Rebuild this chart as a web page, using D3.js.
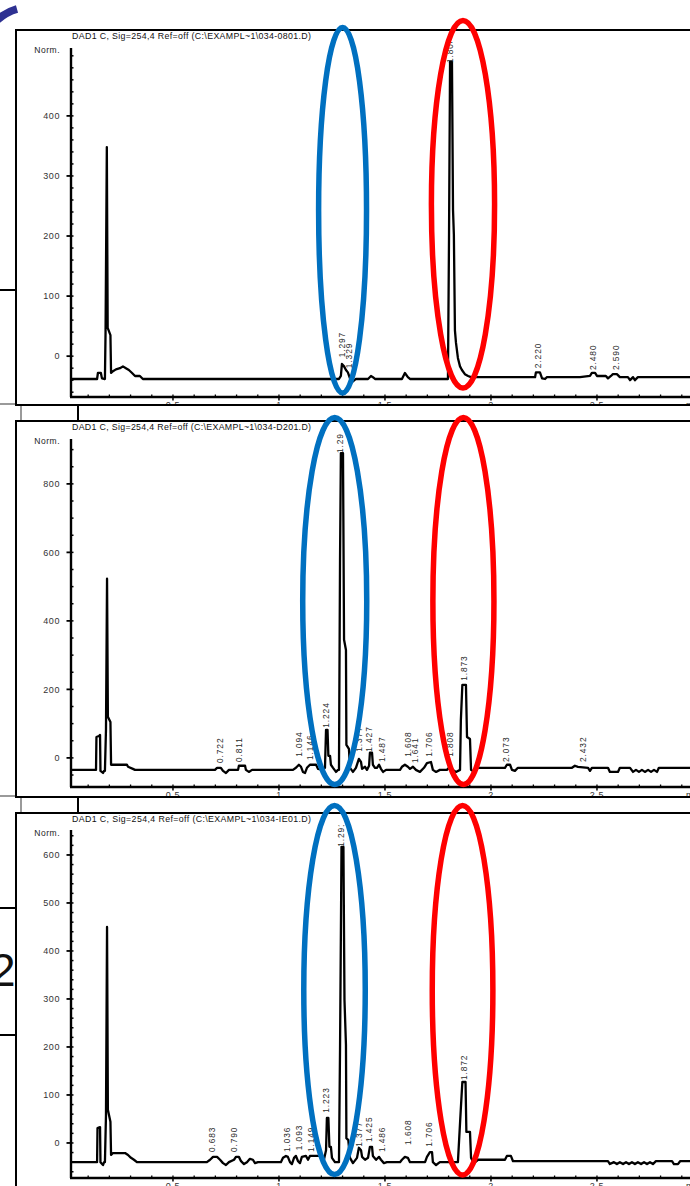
<!DOCTYPE html>
<html><head><meta charset="utf-8">
<script src="https://cdn.jsdelivr.net/npm/d3@7"></script>
<style>html,body{margin:0;padding:0;background:#fff;}svg{display:block;}</style>
</head><body>
<svg id="c" width="690" height="1186"></svg>
<script>
// ---------- DATA ----------
const titles = [
  "DAD1 C, Sig=254,4 Ref=off (C:\\EXAMPL~1\\034-0801.D)",
  "DAD1 C, Sig=254,4 Ref=off (C:\\EXAMPL~1\\034-D201.D)",
  "DAD1 C, Sig=254,4 Ref=off (C:\\EXAMPL~1\\034-IE01.D)"
];
const yAxisTitle = "Norm.";
const xAxisUnit = "min";
const yDomains = [[-68, 513], [-85, 931], [-73, 652]];
const yMajorTicks = [
  [0, 100, 200, 300, 400],
  [0, 200, 400, 600, 800],
  [0, 100, 200, 300, 400, 500, 600]
];
const yMinorSteps = [20, 50, 20];
const xDomain = [0.019, 3.0];
const xMajorTicks = [0.5, 1, 1.5, 2, 2.5];
const xTickLabels = ["0.5", "1", "1.5", "2", "2.5"];
const xMinorStep = 0.1;

// retention time (min), signal (mAU)
const trace1 = [
  [0.019,-38],[0.142,-38],[0.146,-28],[0.160,-28],[0.165,-37],[0.175,-38],[0.179,-38],
  [0.182,40],[0.188,348],[0.192,47],[0.205,35],[0.208,-28],[0.217,-25],[0.231,-22],
  [0.250,-20],[0.264,-17],[0.278,-20],[0.292,-23],[0.307,-28],[0.321,-33],[0.344,-33],
  [0.358,-38],[1.283,-38],[1.292,-33],[1.297,-13],[1.307,-17],[1.316,-23],[1.325,-27],
  [1.335,-37],[1.349,-42],[1.363,-38],[1.420,-38],[1.434,-33],[1.443,-35],[1.453,-38],
  [1.580,-38],[1.594,-28],[1.608,-35],[1.618,-38],[1.797,-38],[1.802,193],[1.807,490],
  [1.816,490],[1.821,243],[1.825,202],[1.830,43],[1.835,22],[1.844,-3],[1.854,-17],
  [1.863,-23],[1.877,-30],[1.892,-33],[1.906,-35],[2.208,-35],[2.212,-27],[2.231,-27],
  [2.241,-37],[2.255,-38],[2.264,-35],[2.420,-35],[2.467,-33],[2.476,-28],[2.491,-28],
  [2.500,-33],[2.542,-33],[2.552,-37],[2.566,-33],[2.575,-30],[2.594,-30],[2.608,-35],
  [2.646,-35],[2.656,-40],[2.670,-35],[2.679,-40],[2.693,-35],[3.0,-35]
];
const trace2 = [
  [0.019,-35],[0.137,-35],[0.139,61],[0.151,64],[0.156,67],[0.158,-38],[0.170,-44],
  [0.175,-38],[0.179,-38],[0.184,82],[0.189,523],[0.193,120],[0.205,105],[0.208,-20],
  [0.283,-20],[0.288,-26],[0.311,-32],[0.321,-35],[0.698,-35],[0.708,-29],[0.726,-29],
  [0.736,-38],[0.750,-44],[0.764,-35],[0.807,-35],[0.811,-23],[0.840,-23],[0.844,-35],
  [0.858,-41],[0.873,-35],[1.066,-35],[1.080,-29],[1.094,-20],[1.104,-26],[1.113,-41],
  [1.123,-44],[1.132,-29],[1.146,-20],[1.175,-20],[1.184,-32],[1.208,-35],[1.217,-29],
  [1.222,82],[1.229,82],[1.233,6],[1.241,6],[1.245,-20],[1.255,-29],[1.269,-41],
  [1.278,-35],[1.283,-35],[1.288,578],[1.292,890],[1.302,890],[1.307,345],[1.316,315],
  [1.318,38],[1.330,26],[1.335,-29],[1.349,-41],[1.363,-29],[1.377,-3],[1.387,-12],
  [1.392,-32],[1.406,-26],[1.415,-35],[1.425,-23],[1.429,15],[1.439,15],[1.443,-20],
  [1.453,-29],[1.462,-29],[1.472,-20],[1.481,-32],[1.491,-41],[1.505,-35],[1.571,-35],
  [1.580,-26],[1.594,-20],[1.608,-26],[1.618,-32],[1.632,-26],[1.646,-35],[1.665,-41],
  [1.684,-29],[1.698,-15],[1.717,-12],[1.726,-35],[1.741,-41],[1.759,-35],[1.792,-35],
  [1.802,-29],[1.811,-32],[1.835,-41],[1.854,-35],[1.858,111],[1.865,213],[1.882,213],
  [1.887,61],[1.901,55],[1.906,-35],[1.920,-41],[1.939,-29],[2.066,-29],[2.075,-20],
  [2.090,-20],[2.099,-35],[2.113,-38],[2.127,-29],[2.382,-29],[2.396,-23],[2.410,-26],
  [2.458,-29],[2.467,-38],[2.476,-29],[2.552,-29],[2.561,-41],[2.599,-41],[2.608,-29],
  [2.656,-29],[2.670,-41],[2.684,-35],[2.698,-41],[2.712,-35],[2.726,-41],[2.741,-35],
  [2.755,-41],[2.769,-35],[2.783,-41],[2.792,-29],[3.0,-29]
];
const trace3 = [
  [0.019,-40],[0.142,-40],[0.144,31],[0.156,33],[0.158,-40],[0.170,-46],[0.175,-40],
  [0.179,-40],[0.184,58],[0.189,450],[0.193,69],[0.205,44],[0.208,-25],[0.217,-21],
  [0.274,-21],[0.288,-25],[0.302,-31],[0.316,-35],[0.330,-40],[0.660,-40],[0.675,-35],
  [0.689,-29],[0.708,-29],[0.722,-35],[0.736,-42],[0.750,-46],[0.764,-40],[0.788,-35],
  [0.797,-29],[0.811,-29],[0.821,-38],[0.835,-44],[0.849,-40],[0.863,-33],[0.877,-35],
  [0.887,-42],[0.901,-40],[1.009,-40],[1.019,-31],[1.033,-27],[1.042,-29],[1.052,-40],
  [1.061,-44],[1.071,-31],[1.080,-27],[1.090,-38],[1.099,-42],[1.108,-29],[1.127,-27],
  [1.137,-35],[1.146,-27],[1.203,-27],[1.212,-35],[1.222,-15],[1.226,52],[1.233,52],
  [1.238,-8],[1.245,-8],[1.250,-31],[1.264,-40],[1.283,-40],[1.288,194],[1.295,617],
  [1.304,617],[1.309,298],[1.316,204],[1.318,10],[1.327,6],[1.335,-31],[1.349,-42],
  [1.368,-31],[1.377,-10],[1.387,-15],[1.392,-29],[1.406,-35],[1.420,-31],[1.429,-8],
  [1.439,-8],[1.443,-27],[1.458,-35],[1.472,-29],[1.481,-35],[1.495,-42],[1.509,-40],
  [1.571,-40],[1.580,-35],[1.594,-29],[1.608,-31],[1.618,-40],[1.689,-40],[1.698,-29],
  [1.712,-19],[1.722,-19],[1.726,-40],[1.741,-46],[1.759,-40],[1.844,-40],[1.858,73],
  [1.865,127],[1.880,127],[1.884,23],[1.901,23],[1.906,-31],[1.920,-42],[1.939,-35],
  [2.066,-35],[2.075,-27],[2.094,-27],[2.104,-38],[2.137,-38],[2.552,-38],[2.561,-44],
  [2.580,-40],[2.594,-44],[2.608,-40],[2.623,-44],[2.637,-40],[2.651,-44],[2.665,-40],
  [2.679,-44],[2.693,-40],[2.708,-44],[2.722,-40],[2.736,-44],[2.750,-40],[2.764,-44],
  [2.778,-38],[2.854,-38],[2.863,-44],[2.882,-44],[2.892,-38],[3.0,-38]
];
// peak labels: [label text, retention time, signal level where label starts]
const peaks1 = [
  ["1.297",1.297,-2],["1.329",1.329,-20],["1.808",1.808,488],
  ["2.220",2.220,-20],["2.480",2.480,-23],["2.590",2.590,-23]
];
const peaks2 = [
  ["0.722",0.722,-15],["0.811",0.811,-12],["1.094",1.094,3],["1.146",1.146,-6],
  ["1.224",1.224,88],["1.290",1.290,890],["1.377",1.377,18],["1.427",1.427,18],
  ["1.487",1.487,-12],["1.608",1.608,3],["1.641",1.641,-15],["1.706",1.706,3],
  ["1.808",1.808,3],["1.873",1.873,225],["2.073",2.073,-12],["2.432",2.432,-12]
];
const peaks3 = [
  ["0.683",0.683,-19],["0.790",0.790,-19],["1.036",1.036,-19],["1.093",1.093,-15],
  ["1.149",1.149,-19],["1.223",1.223,63],["1.291",1.291,617],["1.377",1.377,-8],
  ["1.425",1.425,2],["1.486",1.486,-19],["1.608",1.608,-4],["1.706",1.706,-8],
  ["1.872",1.872,131]
];
const traces = [trace1, trace2, trace3];
const peaks = [peaks1, peaks2, peaks3];
// highlight ellipses: [centre time, half-width in time]
const blueMarks = [[1.300, 0.113], [1.263, 0.151], [1.262, 0.145]];
const redMarks  = [[1.868, 0.149], [1.870, 0.144], [1.866, 0.143]];

// ---------- LAYOUT ----------
const W = 690, H = 1186;
const frameLeft = 16;
const panels = [
  {frameTop: 30,  frameBottom: 405,  axisTop: 48,  axisBottom: 397,  ellTop: [27.5, 20.5], ellBottom: [393, 388]},
  {frameTop: 421, frameBottom: 797,  axisTop: 439, axisBottom: 787,  ellTop: [417.5, 417.5], ellBottom: [784.5, 784.5]},
  {frameTop: 813, frameBottom: 1230, axisTop: 830, axisBottom: 1178, ellTop: [805.5, 805.5], ellBottom: [1174.5, 1175]}
];
const axisX = 71;
const font = "'Liberation Sans', Arial, Helvetica, sans-serif";

const svg = d3.select("#c");
const defs = svg.append("defs");
const x = d3.scaleLinear().domain(xDomain).range([axisX, axisX + (xDomain[1]-xDomain[0])*212]);

// ---------- BACKGROUND (slide behind) ----------
const bg = svg.append("g");
bg.append("path").attr("d", "M-4,21 Q6,12 17,9").attr("fill","none")
  .attr("stroke","#2E3192").attr("stroke-width",8);
[[290,"#000"],[908,"#000"],[1035,"#000"]].forEach(([yy,c]) =>
  bg.append("line").attr("x1",0).attr("x2",frameLeft).attr("y1",yy).attr("y2",yy)
    .attr("stroke",c).attr("stroke-width",2));
[[404,405,421],[796,797,813]].forEach(([hy,y1,y2]) => {
  bg.append("line").attr("x1",0).attr("x2",22).attr("y1",hy).attr("y2",hy)
    .attr("stroke","#9a9a9a").attr("stroke-width",2);
  bg.append("line").attr("x1",21).attr("x2",21).attr("y1",y1).attr("y2",y2)
    .attr("stroke","#9a9a9a").attr("stroke-width",2);
  bg.append("line").attr("x1",78).attr("x2",78).attr("y1",y1).attr("y2",y2)
    .attr("stroke","#000").attr("stroke-width",2);
});
bg.append("text").attr("x",-10).attr("y",986).attr("font-family",font)
  .attr("font-size",46).attr("fill","#111").text("2");

// ---------- PANELS ----------
panels.forEach((p, i) => {
  const g = svg.append("g");
  const clipId = "clip" + i, clipL = "clipL" + i;
  defs.append("clipPath").attr("id", clipId).append("rect")
    .attr("x", frameLeft).attr("y", p.frameTop).attr("width", W).attr("height", p.frameBottom - p.frameTop);
  defs.append("clipPath").attr("id", clipL).append("rect")
    .attr("x", frameLeft).attr("y", p.frameTop + 12).attr("width", W).attr("height", p.frameBottom - p.frameTop - 12);

  g.append("rect").attr("x", frameLeft).attr("y", p.frameTop).attr("width", W)
    .attr("height", p.frameBottom - p.frameTop).attr("fill", "#fff");

  const inner = g.append("g").attr("clip-path", `url(#${clipId})`);
  const y = d3.scaleLinear().domain(yDomains[i]).range([p.axisBottom, p.axisTop]);

  // title
  inner.append("text").attr("x", 72).attr("y", p.frameTop + 9).attr("font-family", font)
    .attr("font-size", 8.8).attr("fill", "#111").attr("textLength", 239)
    .attr("lengthAdjust", "spacing").text(titles[i]);
  inner.append("text").attr("x", 60).attr("y", p.frameTop + 23).attr("text-anchor", "end")
    .attr("font-family", font).attr("font-size", 8.5).attr("letter-spacing", 0.5)
    .attr("fill", "#222").text(yAxisTitle);

  // y axis
  inner.append("line").attr("x1", axisX).attr("x2", axisX).attr("y1", p.axisTop).attr("y2", p.axisBottom)
    .attr("stroke", "#000").attr("stroke-width", 2.4);
  const step = yMinorSteps[i];
  const minor = d3.range(Math.ceil(yDomains[i][0]/step)*step, yDomains[i][1], step);
  inner.selectAll(null).data(minor).join("line")
    .attr("x1", axisX).attr("x2", axisX + 2.5).attr("y1", d => y(d)).attr("y2", d => y(d))
    .attr("stroke", "#000").attr("stroke-width", 1.5);
  inner.selectAll(null).data(yMajorTicks[i]).join("line")
    .attr("x1", axisX - 4.5).attr("x2", axisX).attr("y1", d => y(d)).attr("y2", d => y(d))
    .attr("stroke", "#000").attr("stroke-width", 1.8);
  inner.selectAll(null).data(yMajorTicks[i]).join("text")
    .attr("x", 60).attr("y", d => y(d) + 3.2).attr("text-anchor", "end")
    .attr("font-family", font).attr("font-size", 9).attr("letter-spacing", 0.6)
    .attr("fill", "#333").text(d => d);

  // x axis
  inner.append("line").attr("x1", axisX - 1).attr("x2", W + 10).attr("y1", p.axisBottom).attr("y2", p.axisBottom)
    .attr("stroke", "#000").attr("stroke-width", 2.4);
  const xm = d3.range(0.1, 3.05, xMinorStep);
  inner.selectAll(null).data(xm).join("line")
    .attr("x1", d => x(d)).attr("x2", d => x(d)).attr("y1", p.axisBottom - 2.5).attr("y2", p.axisBottom)
    .attr("stroke", "#000").attr("stroke-width", 1.3);
  inner.selectAll(null).data(xMajorTicks).join("line")
    .attr("x1", d => x(d)).attr("x2", d => x(d)).attr("y1", p.axisBottom).attr("y2", p.axisBottom + 3.5)
    .attr("stroke", "#000").attr("stroke-width", 1.5);
  inner.selectAll(null).data(xMajorTicks).join("text")
    .attr("x", d => x(d)).attr("y", p.axisBottom + 10.5).attr("text-anchor", "middle")
    .attr("font-family", font).attr("font-size", 9).attr("letter-spacing", 0.6)
    .attr("fill", "#333").text((d, k) => xTickLabels[k]);
  inner.append("text").attr("x", 686).attr("y", p.axisBottom + 10.5)
    .attr("font-family", font).attr("font-size", 9).attr("fill", "#333").text(xAxisUnit);

  // trace
  const line = d3.line().x(d => x(d[0])).y(d => y(d[1]));
  inner.append("path").datum(traces[i]).attr("d", line).attr("fill", "none")
    .attr("stroke", "#000").attr("stroke-width", 2.3).attr("stroke-linejoin", "round");

  // peak labels
  const lab = g.append("g").attr("clip-path", `url(#${clipL})`);
  lab.selectAll(null).data(peaks[i]).join("text")
    .attr("transform", d => `translate(${x(d[1]) + 3},${y(d[2])}) rotate(-90)`)
    .attr("font-family", font).attr("font-size", 8.4).attr("letter-spacing", 0.9)
    .attr("fill", "#2a2a2a").text(d => d[0]);

  // frame
  g.append("rect").attr("x", frameLeft).attr("y", p.frameTop).attr("width", W)
    .attr("height", p.frameBottom - p.frameTop).attr("fill", "none")
    .attr("stroke", "#000").attr("stroke-width", 2);
});

// ---------- HIGHLIGHT ELLIPSES ----------
panels.forEach((p, i) => {
  [[blueMarks[i], "#0070C0", 0], [redMarks[i], "#FF0000", 1]].forEach(([m, col, k]) => {
    const cy = (p.ellTop[k] + p.ellBottom[k]) / 2, ry = (p.ellBottom[k] - p.ellTop[k]) / 2;
    svg.append("ellipse").attr("cx", x(m[0])).attr("cy", cy)
      .attr("rx", x(m[0] + m[1]) - x(m[0])).attr("ry", ry)
      .attr("fill", "none").attr("stroke", col).attr("stroke-width", 5.5);
  });
});
</script>
</body></html>
